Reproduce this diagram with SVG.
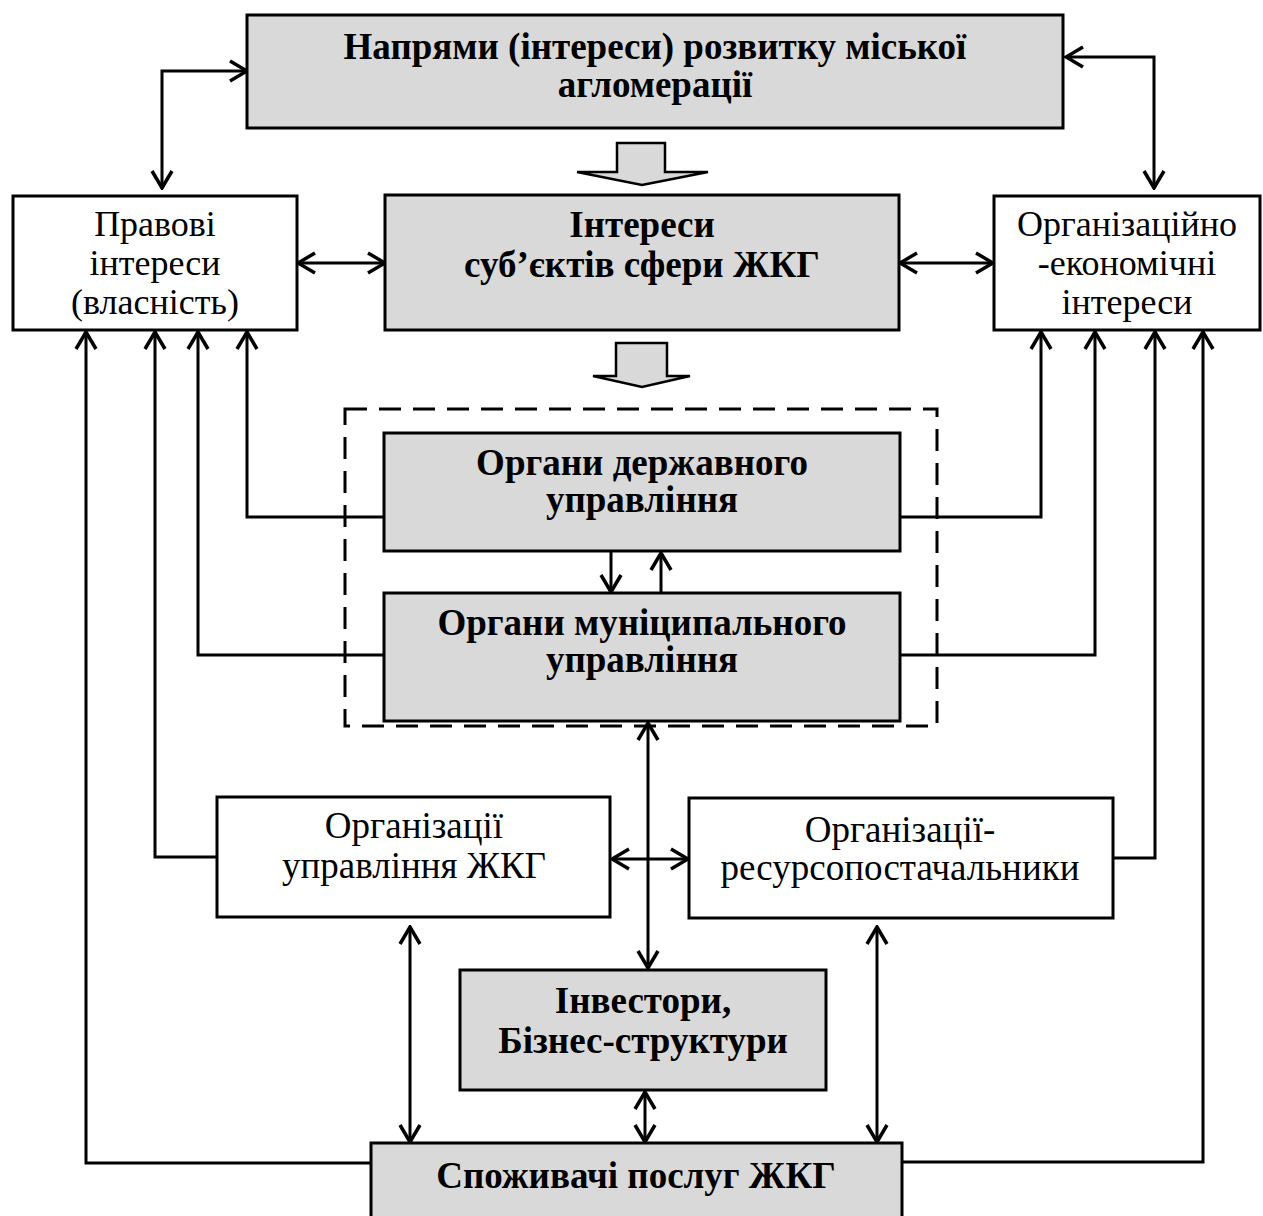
<svg xmlns="http://www.w3.org/2000/svg" width="1263" height="1216" viewBox="0 0 1263 1216">
<style>
.g{fill:#d9d9d9;stroke:#000;stroke-width:3}
.w{fill:#fff;stroke:#000;stroke-width:3}
.b{font-family:"Liberation Serif","Times New Roman",serif;font-weight:bold;font-size:37px;text-anchor:middle;fill:#000}
.r{font-family:"Liberation Serif","Times New Roman",serif;font-size:37px;text-anchor:middle;fill:#000}
.r3{font-size:36px}
.c path{fill:none;stroke:#000;stroke-width:3}
.blk{fill:#d9d9d9;stroke:#000;stroke-width:2.5}
</style>
<defs>
<marker id="a" viewBox="-20 -12 22 24" refX="0" refY="0" markerWidth="22" markerHeight="24" markerUnits="userSpaceOnUse" orient="auto-start-reverse">
<path d="M-17,-10 L0,0 L-17,10" fill="none" stroke="#000" stroke-width="3.5"/>
</marker>
</defs>
<rect width="1263" height="1216" fill="#fff"/>
<g id="connectors" class="c">
<path d="M162,188 V71 H247" marker-start="url(#a)" marker-end="url(#a)"/>
<path d="M1066,57 H1154 V188" marker-start="url(#a)" marker-end="url(#a)"/>
<path d="M298,263 H385" marker-start="url(#a)" marker-end="url(#a)"/>
<path d="M900,263 H993" marker-start="url(#a)" marker-end="url(#a)"/>
<path d="M384,517 H247 V332" marker-end="url(#a)"/>
<path d="M900,517 H1041 V332" marker-end="url(#a)"/>
<path d="M384,655 H198 V332" marker-end="url(#a)"/>
<path d="M900,655 H1095 V332" marker-end="url(#a)"/>
<path d="M217,857 H155 V332" marker-end="url(#a)"/>
<path d="M1113,858 H1155 V332" marker-end="url(#a)"/>
<path d="M371,1163 H86 V332" marker-end="url(#a)"/>
<path d="M902,1162 H1203 V332" marker-end="url(#a)"/>
<path d="M611,552 V592" marker-end="url(#a)"/>
<path d="M661,593 V553" marker-end="url(#a)"/>
<path d="M648,723 V968" marker-start="url(#a)" marker-end="url(#a)"/>
<path d="M612,859 H688" marker-start="url(#a)" marker-end="url(#a)"/>
<path d="M410,927 V1142" marker-start="url(#a)" marker-end="url(#a)"/>
<path d="M877,927 V1142" marker-start="url(#a)" marker-end="url(#a)"/>
<path d="M645,1092 V1142" marker-start="url(#a)" marker-end="url(#a)"/>
</g>
<g id="blockArrows">
<path class="blk" d="M617,143 H665 V172 H708 L642,185 L577,172 H617 Z"/>
<path class="blk" d="M616,343 H667 V376 H690 L642,387 L593,376 H616 Z"/>
</g>
<g id="govGroup">
<rect x="345" y="409" width="592" height="317" fill="none" stroke="#000" stroke-width="3" stroke-dasharray="22,12"/>
</g>
<g id="top">
<rect class="g" x="247" y="15" width="816" height="113"/>
<text class="b" x="655" y="59">Напрями (інтереси) розвитку міської</text>
<text class="b" x="655" y="97">агломерації</text>
</g>
<g id="legal">
<rect class="w" x="13" y="196" width="284" height="134"/>
<text class="r r3" x="155" y="236">Правові</text>
<text class="r r3" x="155" y="275">інтереси</text>
<text class="r r3" x="155" y="314">(власність)</text>
</g>
<g id="subjects">
<rect class="g" x="385" y="195" width="514" height="135"/>
<text class="b" x="642" y="237">Інтереси</text>
<text class="b" x="642" y="277">суб’єктів сфери ЖКГ</text>
</g>
<g id="orgEcon">
<rect class="w" x="994" y="196" width="266" height="134"/>
<text class="r r3" x="1127" y="236">Організаційно</text>
<text class="r r3" x="1127" y="275">-економічні</text>
<text class="r r3" x="1127" y="314">інтереси</text>
</g>
<g id="state">
<rect class="g" x="384" y="433" width="516" height="118"/>
<text class="b" x="642" y="475">Органи державного</text>
<text class="b" x="642" y="512">управління</text>
</g>
<g id="municipal">
<rect class="g" x="384" y="593" width="516" height="128"/>
<text class="b" x="642" y="635">Органи муніципального</text>
<text class="b" x="642" y="672">управління</text>
</g>
<g id="housingMgmt">
<rect class="w" x="217" y="797" width="393" height="120"/>
<text class="r" x="414" y="838">Організації</text>
<text class="r" x="414" y="878">управління ЖКГ</text>
</g>
<g id="resource">
<rect class="w" x="689" y="798" width="424" height="120"/>
<text class="r" x="900" y="842">Організації-</text>
<text class="r" x="900" y="880">ресурсопостачальники</text>
</g>
<g id="investors">
<rect class="g" x="460" y="970" width="366" height="120"/>
<text class="b" x="643" y="1013">Інвестори,</text>
<text class="b" x="643" y="1053">Бізнес-структури</text>
</g>
<g id="consumers">
<rect class="g" x="371" y="1143" width="531" height="80"/>
<text class="b" x="636" y="1188">Споживачі послуг ЖКГ</text>
</g>
</svg>
